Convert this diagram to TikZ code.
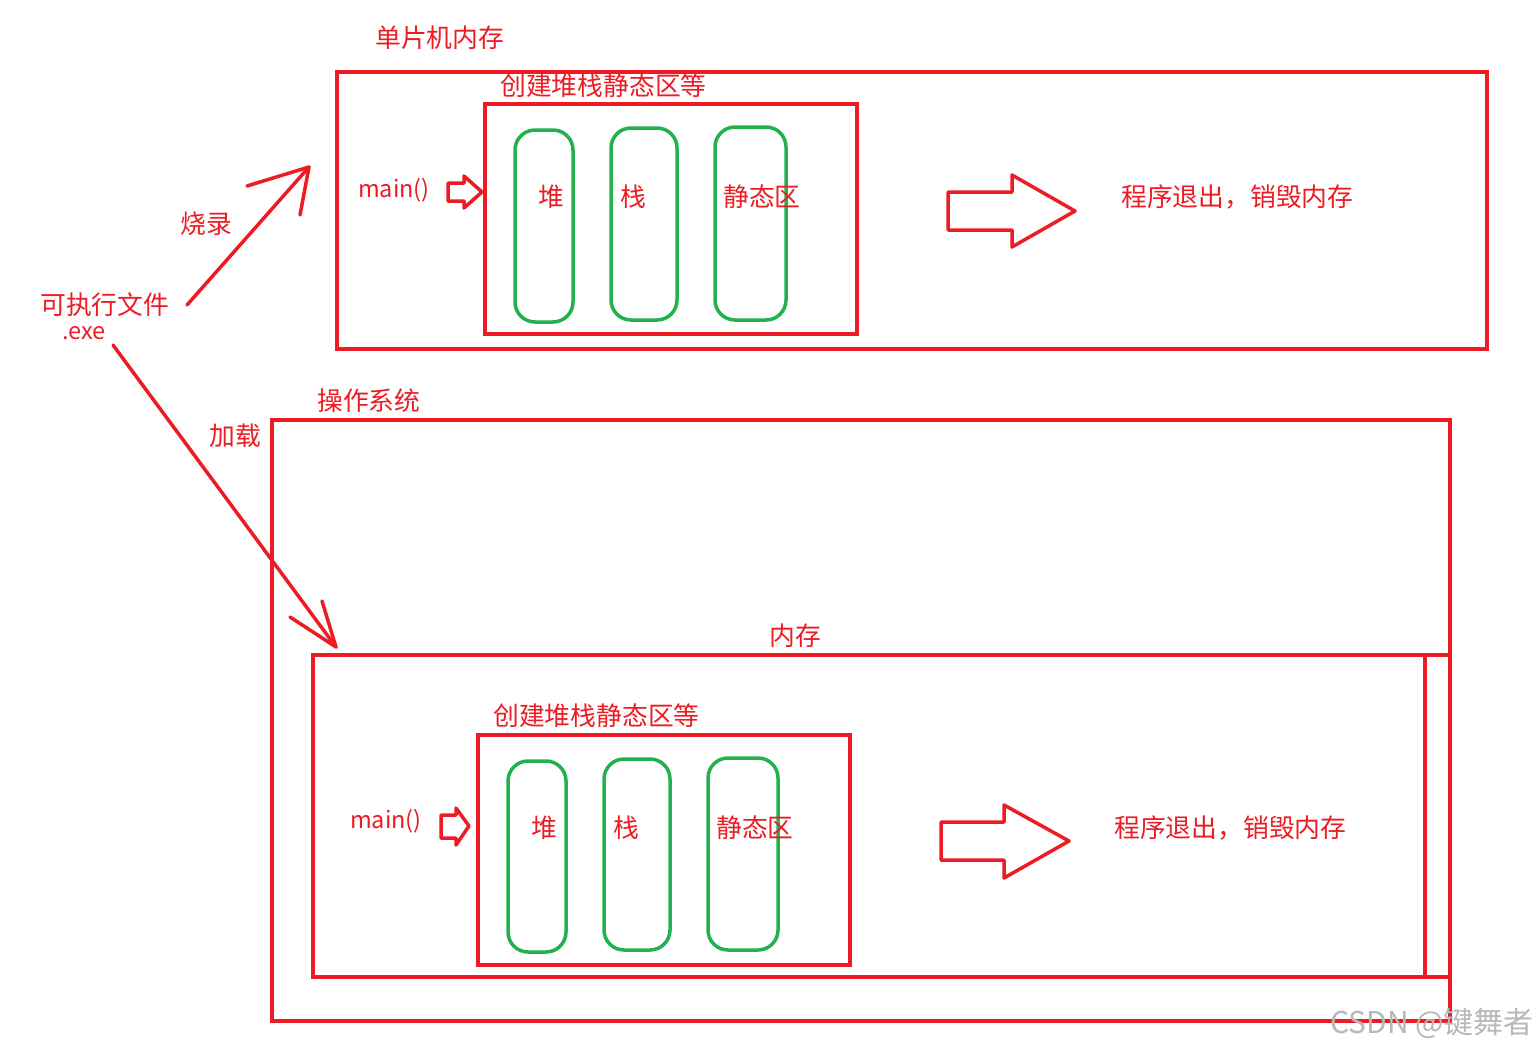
\documentclass[tikz,border=0pt]{standalone}
\usepackage{fontspec}
\setmainfont{Noto Sans CJK SC}
\definecolor{pred}{HTML}{ED1C24}
\definecolor{pgreen}{HTML}{22B14C}
\begin{document}
\begin{tikzpicture}[x=1pt,y=-1pt,
  redbox/.style={draw=pred,line width=4pt},
  greenbox/.style={draw=pgreen,line width=3.5pt,rounded corners=20pt},
  redline/.style={draw=pred,line width=3.5pt,line cap=round,line join=round},
  lbl/.style={text=pred,font=\fontsize{25.8}{28}\selectfont,inner sep=0pt,anchor=west},
  latin/.style={lbl,font=\fontsize{23.5}{26}\selectfont},
  wm/.style={text=black!28,font=\fontsize{30}{32}\selectfont,inner sep=0pt,anchor=west}]
\useasboundingbox (0,0) rectangle (1534,1050);
\fill[white] (0,0) rectangle (1534,1050);

% ---------- top: MCU memory ----------
\node[lbl] (mcu) at (375,38) {单片机内存};
\draw[redbox] (337,72) rectangle (1487,349);
\node[lbl] (create1) at (500,86) {创建堆栈静态区等};
\draw[redbox] (485,104) rectangle (857,334);
\draw[greenbox] (515,130) rectangle (573,322);
\draw[greenbox] (611,128) rectangle (677,320);
\draw[greenbox] (715,127) rectangle (786,320);
\node[lbl,anchor=center] (heap1) at (551,197) {堆};
\node[lbl,anchor=center] (stack1) at (633,197) {栈};
\node[lbl] (static1) at (723,197) {静态区};
\node[latin] (main1) at (358,190) {main()};
\draw[redline] (448,183) -- (464,183) -- (464,176) -- (482,192) -- (464,208) -- (464,201) -- (448,201) -- cycle;
\draw[redline] (948,192) -- (1012,192) -- (1012,175) -- (1075,211) -- (1012,247) -- (1012,230) -- (948,230) -- cycle;
\node[lbl] (exit1) at (1121,197) {程序退出，销毁内存};

% ---------- left: executable ----------
\node[lbl] (exe) at (40,305) {可执行文件};
\node[latin] (exeext) at (62,333) {.exe};
\coordinate (burnS) at (187,305);
\coordinate (burnT) at (309,167);
\draw[redline] (burnS) -- (burnT);
\draw[redline] (247,186) -- (burnT) -- (300,215);
\node[lbl,anchor=center] (burn) at (206,224) {烧录};
\coordinate (loadS) at (113,345);
\coordinate (loadT) at (336,647);
\draw[redline] (loadS) -- (loadT);
\draw[redline] (290,617) -- (loadT) -- (322,601);
\node[lbl,anchor=center] (load) at (235,436) {加载};

% ---------- bottom: operating system ----------
\node[lbl] (os) at (317,401) {操作系统};
\draw[redbox] (272,420) rectangle (1450,1021);
\node[lbl,anchor=center] (mem) at (795,636) {内存};
\draw[redbox] (313,655) rectangle (1450,977);
\draw[redbox] (1425,655) -- (1425,977);
\node[lbl] (create2) at (493,716) {创建堆栈静态区等};
\draw[redbox] (478,735) rectangle (850,965);
\draw[greenbox] (508,761) rectangle (566,952);
\draw[greenbox] (604,759) rectangle (670,950);
\draw[greenbox] (708,758) rectangle (778,950);
\node[lbl,anchor=center] (heap2) at (544,828) {堆};
\node[lbl,anchor=center] (stack2) at (626,828) {栈};
\node[lbl] (static2) at (716,828) {静态区};
\node[latin] (main2) at (350,821) {main()};
\draw[redline] (441,815) -- (456,815) -- (456,808) -- (469,826) -- (456,845) -- (456,838) -- (441,838) -- cycle;
\draw[redline] (941,822) -- (1004,822) -- (1004,805) -- (1069,841) -- (1004,878) -- (1004,860) -- (941,860) -- cycle;
\node[lbl] (exit2) at (1114,828) {程序退出，销毁内存};

\node[wm] (watermark) at (1330,1023) {CSDN @键舞者};
\end{tikzpicture}
\end{document}
